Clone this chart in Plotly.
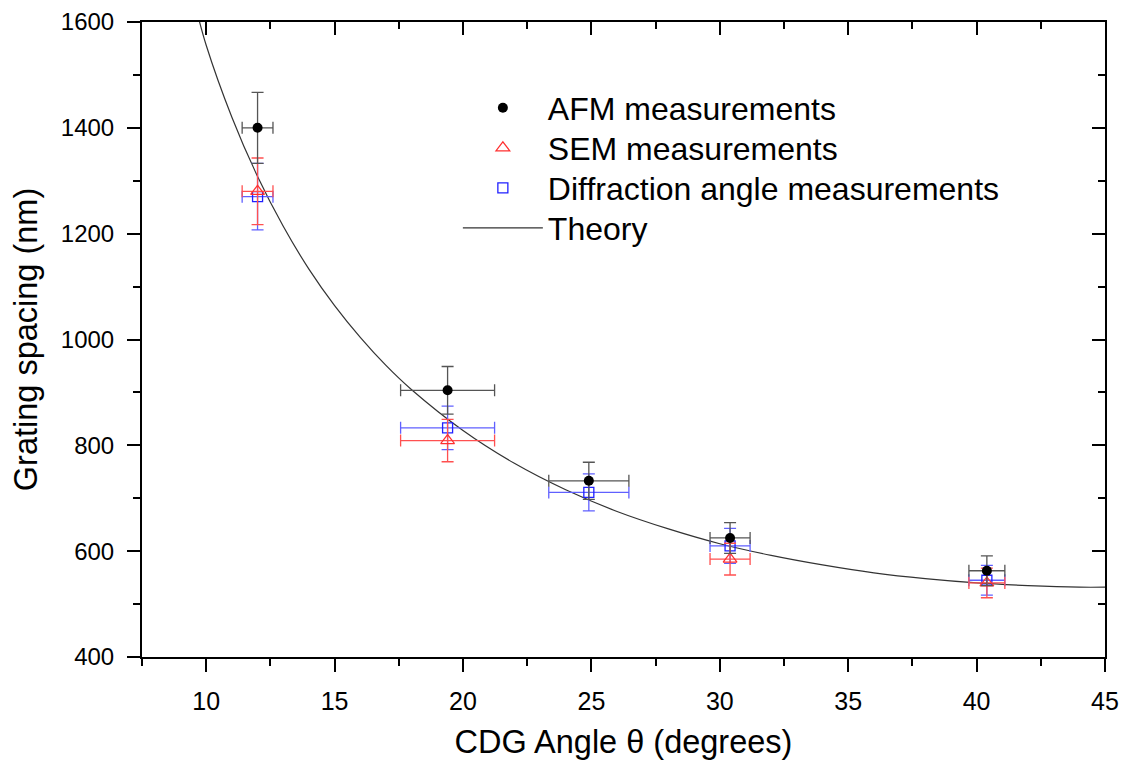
import plotly.graph_objects as go

# ---- data ----
afm_x = [12.0, 19.4, 24.9, 30.4, 40.4]
afm_y = [1400, 904, 733, 625, 563]
afm_xerr = [0.6, 1.83, 1.56, 0.78, 0.7]
afm_yerr = [67, 45, 35, 29, 28]

sem_x = [12.0, 19.4, 30.4, 40.4]
sem_y = [1280, 809, 585, 540]
sem_xerr = [0.6, 1.83, 0.78, 0.7]
sem_yerr = [63, 40, 30, 28]

dif_x = [12.0, 19.4, 24.9, 30.4, 40.4]
dif_y = [1270, 833, 711, 610, 545]
dif_xerr = [0.6, 1.83, 1.56, 0.78, 0.7]
dif_yerr = [63, 41, 35, 33, 28]

theory_x = [9.6, 10, 11, 12, 13, 14, 15, 16, 17, 18, 20, 22, 24, 26, 28, 30, 32, 34, 36, 38, 40, 42, 44, 45]
theory_y = [1627, 1556, 1420, 1308, 1214, 1133, 1064, 1004, 951, 905, 828, 766, 716, 675, 642, 614, 592, 574, 559, 548, 540, 535, 532, 532]

x_ticks = [10, 15, 20, 25, 30, 35, 40, 45]
y_ticks = [400, 600, 800, 1000, 1200, 1400, 1600]

FONT = "Liberation Sans, Arial, sans-serif"

fig = go.Figure()

fig.add_trace(go.Scatter(
    x=theory_x, y=theory_y, mode="lines", name="Theory", legend="legend4",
    line=dict(color="#333333", width=1.2, shape="spline"),
))
fig.add_trace(go.Scatter(
    x=dif_x, y=dif_y, mode="markers", name="Diffraction angle measurements", legend="legend3",
    marker=dict(symbol="square-open", size=10, color="#2020ff", line=dict(width=1.3)),
    error_x=dict(type="data", array=dif_xerr, color="#6060ff", thickness=1.3, width=6),
    error_y=dict(type="data", array=dif_yerr, color="#6060ff", thickness=1.3, width=6),
))
fig.add_trace(go.Scatter(
    x=sem_x, y=sem_y, mode="markers", name="SEM measurements", legend="legend2",
    marker=dict(symbol="triangle-up-open", size=12, color="#ff3030", line=dict(width=1.2)),
    error_x=dict(type="data", array=sem_xerr, color="#ff5050", thickness=1.3, width=6),
    error_y=dict(type="data", array=sem_yerr, color="#ff5050", thickness=1.3, width=6),
))
fig.add_trace(go.Scatter(
    x=afm_x, y=afm_y, mode="markers", name="AFM measurements", legend="legend",
    marker=dict(symbol="circle", size=10, color="black"),
    error_x=dict(type="data", array=afm_xerr, color="#555555", thickness=1.3, width=6),
    error_y=dict(type="data", array=afm_yerr, color="#555555", thickness=1.3, width=6),
))
# invisible trace to anchor mirrored axes
fig.add_trace(go.Scatter(
    x=theory_x, y=theory_y, xaxis="x2", yaxis="y2", mode="lines",
    line=dict(width=0), opacity=0, showlegend=False, hoverinfo="skip",
))

common = dict(showgrid=False, zeroline=False, showline=True, linecolor="black",
              linewidth=2, tickcolor="black", tickwidth=2, automargin=False)


def leg(ypos):
    return dict(x=0.328, y=ypos, xanchor="left", yanchor="middle",
                bgcolor="rgba(0,0,0,0)", font=dict(size=32), itemwidth=80)


fig.update_layout(
    width=1124, height=754,
    margin=dict(l=134, r=27, t=14, b=105, autoexpand=False),
    paper_bgcolor="white", plot_bgcolor="white",
    font=dict(family=FONT, color="black"),
    xaxis=dict(
        range=[7.5, 45], tickvals=x_ticks, ticks="outside", ticklen=13,
        tickfont=dict(size=25), ticklabelstandoff=8,
        minor=dict(dtick=2.5, tick0=7.5, ticks="outside", ticklen=7, tickwidth=2, tickcolor="black"),
        title=dict(text="CDG Angle θ (degrees)", font=dict(size=32.5), standoff=16),
        **common,
    ),
    yaxis=dict(
        range=[400, 1600], tickvals=y_ticks, ticks="outside", ticklen=13,
        tickfont=dict(size=24), ticklabelstandoff=8,
        minor=dict(dtick=100, tick0=400, ticks="outside", ticklen=7, tickwidth=2, tickcolor="black"),
        title=dict(text="Grating spacing (nm)", font=dict(size=32.5), standoff=14),
        **common,
    ),
    xaxis2=dict(
        overlaying="x", side="top", matches="x", range=[7.5, 45], tickvals=x_ticks,
        ticks="inside", ticklen=13, showticklabels=False,
        minor=dict(dtick=2.5, tick0=7.5, ticks="inside", ticklen=7, tickwidth=2, tickcolor="black"),
        **common,
    ),
    yaxis2=dict(
        overlaying="y", side="right", matches="y", range=[400, 1600], tickvals=y_ticks,
        ticks="inside", ticklen=13, showticklabels=False,
        minor=dict(dtick=100, tick0=400, ticks="inside", ticklen=7, tickwidth=2, tickcolor="black"),
        **common,
    ),
    legend=leg(0.8646),
    legend2=leg(0.8016),
    legend3=leg(0.7386),
    legend4=leg(0.6756),
    showlegend=True,
)

fig.write_html("out.html")
